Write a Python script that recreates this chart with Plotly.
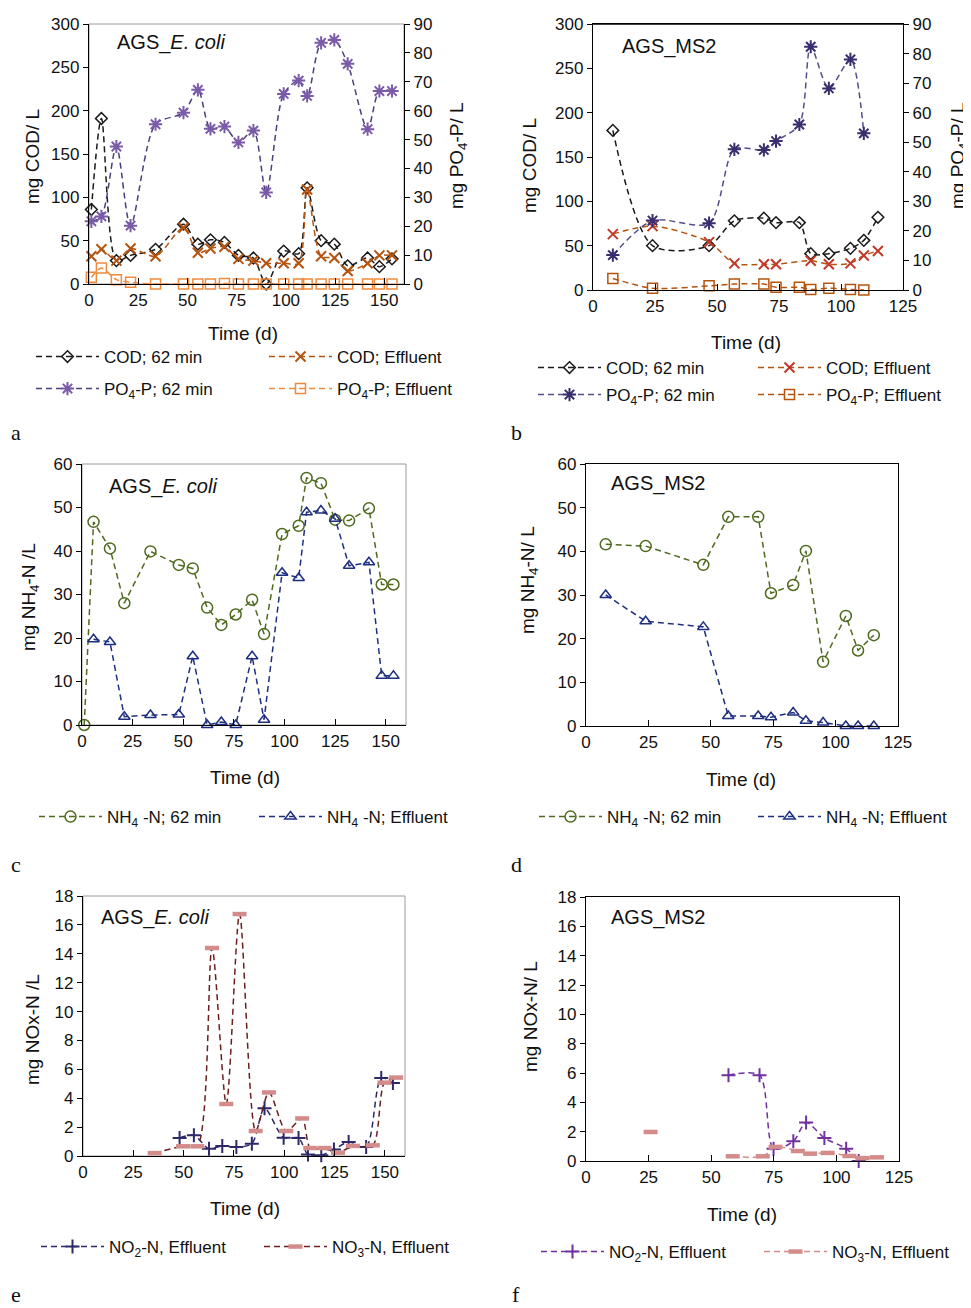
import plotly.graph_objects as go

# The page body has an 8 px margin: the figure is sized and mapped accordingly.
OFF = 8
W, H = 971 - OFF, 1308 - OFF
FONT = "Liberation Sans"

# ---------------- data ----------------
# Panel a: AGS_E. coli, COD and PO4-P
a_days = [1.2, 6.3, 13.9, 21.1, 33.8, 48, 55.3, 61.7, 68.8, 75.9, 83.5, 90, 98.9, 106.5, 110.8, 117.9, 124.6, 131.4, 141.5, 147.5, 153.9]
a_cod_62 = [86, 191, 27, 33, 40, 69, 46, 51, 48, 33, 30, 0, 38, 35, 111, 50, 46, 21, 30, 20, 29]
a_cod_eff = [32, 40, 27, 41, 32, 65, 36, 41, 43, 29, 27, 24, 24, 24, 109, 32, 30, 15, 24, 33, 33]
a_po4_62 = [21.7, 23.4, 47.6, 20.2, 55.3, 59.3, 67.2, 53.7, 54.5, 49, 53.1, 31.7, 65.8, 70.4, 65.1, 83.5, 84.5, 76.2, 53.6, 66.8, 66.8]
a_po4_eff = [2.3, 5.5, 1.5, 0.6, 0, 0, 0, 0, 0.2, 0, 0, 0, 0, 0, 0, 0, 0, 0, 0, 0, 0]

# Panel b: AGS_MS2, COD and PO4-P
b_days_cod62 = [8, 24, 46.8, 57, 68.9, 73.8, 83.2, 87.8, 95.1, 103.8, 109.2, 114.9]
b_cod_62 = [180, 50, 50, 78, 81, 76, 76, 41, 41, 47, 56, 82]
b_days_codeff = [8, 24, 46.8, 57, 68.9, 73.8, 87.8, 95.1, 103.8, 109.2, 114.9]
b_cod_eff = [63, 72, 54, 30, 29, 29, 33, 29, 30, 39, 44]
b_days_po4 = [8, 24, 46.8, 57, 68.9, 73.8, 83.2, 87.8, 95.1, 103.8, 109.2]
b_po4_62 = [11.8, 23.5, 22.6, 47.6, 47.4, 50.4, 56, 82.3, 68.2, 78, 53]
b_po4_eff = [3.9, 0.6, 1.4, 2, 2, 0.9, 0.9, 0.2, 0.6, 0.2, 0]

# Panel c: AGS_E. coli, NH4-N
c_days_62 = [1.1, 5.7, 13.8, 20.9, 33.8, 47.8, 54.7, 61.8, 68.8, 75.9, 84, 89.9, 98.8, 107, 110.9, 118, 125, 131.9, 141.7, 148, 153.8]
c_nh4_62 = [0, 46.7, 40.6, 28, 39.9, 36.8, 36, 27, 23, 25.4, 28.8, 20.9, 43.9, 45.8, 56.8, 55.6, 47.2, 47, 49.8, 32.3, 32.3]
c_days_eff = [5.7, 13.8, 20.9, 33.8, 47.8, 54.7, 61.8, 68.8, 75.9, 84, 89.9, 98.8, 107, 110.9, 118, 125, 131.9, 141.7, 148, 153.8]
c_nh4_eff = [19.7, 19.1, 1.9, 2.3, 2.4, 15.8, 0, 0.7, 0, 15.8, 1.2, 35, 33.8, 48.9, 49.3, 47.4, 36.6, 37.4, 11.3, 11.3]

# Panel d: AGS_MS2, NH4-N
d_days = [7.9, 23.9, 47, 57, 69, 74.1, 83, 88.1, 95, 104.1, 109, 115.3]
d_nh4_62 = [41.6, 41.2, 36.9, 47.9, 47.9, 30.4, 32.3, 40.1, 14.7, 25.2, 17.3, 20.8]
d_nh4_eff = [30, 24, 22.7, 2.3, 2.3, 2, 3.1, 1.2, 0.8, 0, 0, 0]

# Panel e: AGS_E. coli, NOx-N
e_days_no2 = [48, 55.1, 62.6, 69.2, 76.2, 83.9, 90.2, 99.7, 107.1, 111.8, 118.4, 124.7, 132, 140.7, 148.2, 154]
e_no2 = [1.25, 1.43, 0.5, 0.7, 0.62, 0.85, 3.3, 1.27, 1.25, 0.1, 0.05, 0.45, 0.97, 0.62, 5.4, 5.05]
e_days_no3 = [35.6, 49.7, 56.8, 64.1, 71.2, 77.8, 85.8, 92.4, 101, 108.9, 112.9, 120, 126.7, 134.1, 144, 149.8, 155.6]
e_no3 = [0.2, 0.67, 0.67, 14.4, 3.6, 16.75, 1.73, 4.4, 1.73, 2.6, 0.55, 0.55, 0.23, 0.7, 0.74, 5.08, 5.43]

# Panel f: AGS_MS2, NOx-N
f_days_no2 = [56.9, 69.3, 74.9, 82.8, 87.9, 95.2, 103.9, 108.9]
f_no2 = [5.85, 5.85, 0.84, 1.34, 2.62, 1.57, 0.84, 0]
f_days_no3 = [25.8, None, 58.6, 70.6, 75.7, 84.6, 89.5, 96.5, 105.2, 110.5, 116.2]
f_no3 = [1.98, None, 0.32, 0.32, 0.96, 0.68, 0.5, 0.55, 0.34, 0.2, 0.25]

x_ticks_long = [0, 25, 50, 75, 100, 125, 150]
x_ticks_short = [0, 25, 50, 75, 100, 125]

# ---------------- helpers ----------------
def fx(px):
    return (px - OFF) / W

def fy(py):
    return 1 - (py - OFF) / H

DASH = "6px,4px"
LEG_FONT = dict(family=FONT, size=17, color="#111")
legends = {}
_leg_counter = [0]


def make_legend(px, py):
    _leg_counter[0] += 1
    n = _leg_counter[0]
    key = "legend" if n == 1 else f"legend{n}"
    legends[key] = dict(x=fx(px - 4), y=fy(py), xanchor="left", yanchor="middle",
                        orientation="v", itemwidth=63, bgcolor="rgba(0,0,0,0)",
                        borderwidth=0, font=LEG_FONT, itemclick=False,
                        itemdoubleclick=False)
    return key


def line_trace(x, y, name, xa, ya, lcol, mcol, symbol, msize, legpos,
               shape="linear", mlw=1.5, lw=1.5):
    return go.Scatter(
        x=x, y=y, name=name, xaxis=xa, yaxis=ya, legend=make_legend(*legpos),
        mode="lines+markers", cliponaxis=False, connectgaps=False,
        line=dict(color=lcol, width=lw, dash=DASH, shape=shape, smoothing=0.8),
        marker=dict(symbol=symbol, size=msize, color=mcol,
                    line=dict(color=mcol, width=mlw)),
    )


fig = go.Figure()

# colours
C_BLACK = "#1a1a1a"
C_COD_EFF_A = "#B5540F"
C_PO4_A_M = "#7A5BA8"
C_PO4_A_L = "#4E3D80"
C_PO4_EFF_A = "#F08A3C"
C_COD_EFF_B_M = "#C0392B"
C_COD_EFF_B_L = "#B5540F"
C_PO4_B_M = "#3A2E6E"
C_PO4_B_L = "#5B4A8A"
C_PO4_EFF_B = "#B5540F"
C_GREEN = "#4F6A1E"
C_NAVY = "#1F2F80"
C_NO2_E = "#2E2A6A"
C_NO3_E_L = "#6B1F1F"
C_NO3_M = "#D48C8A"
C_NO2_F = "#7030A0"

# Panel a
fig.add_trace(line_trace(a_days, a_cod_62, "COD; 62 min", "x", "y", C_BLACK, C_BLACK, "diamond-open", 9, (35, 357), "spline"))
fig.add_trace(line_trace(a_days, a_cod_eff, "COD; Effluent", "x", "y", C_COD_EFF_A, C_COD_EFF_A, "x-thin-open", 10, (268, 357), "spline", mlw=2))
fig.add_trace(line_trace(a_days, a_po4_62, "PO<sub>4</sub>-P; 62 min", "x", "y2", C_PO4_A_L, C_PO4_A_M, "asterisk-open", 11, (35, 389), "spline", mlw=2))
fig.add_trace(line_trace(a_days, a_po4_eff, "PO<sub>4</sub>-P; Effluent", "x", "y2", C_PO4_EFF_A, C_PO4_EFF_A, "square-open", 10, (268, 389), "spline"))

# Panel b
fig.add_trace(line_trace(b_days_cod62, b_cod_62, "COD; 62 min", "x2", "y3", C_BLACK, C_BLACK, "diamond-open", 9, (537, 368), "spline"))
fig.add_trace(line_trace(b_days_codeff, b_cod_eff, "COD; Effluent", "x2", "y3", C_COD_EFF_B_L, C_COD_EFF_B_M, "x-thin-open", 10, (757, 368), "spline", mlw=2))
fig.add_trace(line_trace(b_days_po4, b_po4_62, "PO<sub>4</sub>-P; 62 min", "x2", "y4", C_PO4_B_L, C_PO4_B_M, "asterisk-open", 11, (537, 395), "spline", mlw=2))
fig.add_trace(line_trace(b_days_po4, b_po4_eff, "PO<sub>4</sub>-P; Effluent", "x2", "y4", C_PO4_EFF_B, C_PO4_EFF_B, "square-open", 10, (757, 395), "spline"))

# Panel c
fig.add_trace(line_trace(c_days_62, c_nh4_62, "NH<sub>4</sub> -N; 62 min", "x3", "y5", C_GREEN, C_GREEN, "circle-open", 11, (38, 817)))
fig.add_trace(line_trace(c_days_eff, c_nh4_eff, "NH<sub>4</sub> -N; Effluent", "x3", "y5", C_NAVY, C_NAVY, "triangle-up-open", 10, (258, 817)))

# Panel d
fig.add_trace(line_trace(d_days, d_nh4_62, "NH<sub>4</sub> -N; 62 min", "x4", "y6", C_GREEN, C_GREEN, "circle-open", 11, (538, 817)))
fig.add_trace(line_trace(d_days, d_nh4_eff, "NH<sub>4</sub> -N; Effluent", "x4", "y6", C_NAVY, C_NAVY, "triangle-up-open", 10, (757, 817)))

# Panel e
fig.add_trace(line_trace(e_days_no2, e_no2, "NO<sub>2</sub>-N, Effluent", "x5", "y7", C_NO2_E, C_NO2_E, "cross-thin-open", 10, (40, 1247), "spline", mlw=2))
fig.add_trace(line_trace(e_days_no3, e_no3, "NO<sub>3</sub>-N, Effluent", "x5", "y7", C_NO3_E_L, C_NO3_M, "line-ew-open", 10, (263, 1247), "spline", mlw=4.5))

# Panel f
fig.add_trace(line_trace(f_days_no2, f_no2, "NO<sub>2</sub>-N, Effluent", "x6", "y8", C_NO2_F, C_NO2_F, "cross-thin-open", 10, (540, 1252), "spline", mlw=2))
fig.add_trace(line_trace(f_days_no3, f_no3, "NO<sub>3</sub>-N, Effluent", "x6", "y8", C_NO3_M, C_NO3_M, "line-ew-open", 10, (763, 1252), "spline", mlw=4.5))

# ---------------- axes ----------------
TICKFONT = dict(family=FONT, size=17, color="#111")


def xaxis(x0, x1, anchor, rng, ticks, mirror):
    return dict(domain=[fx(x0), fx(x1)], anchor=anchor, range=rng,
                tickvals=ticks, ticks="inside", ticklen=6, tickwidth=1.3,
                tickcolor="black", showline=True, linecolor="black", linewidth=1.3,
                mirror=mirror, showgrid=False, zeroline=False, tickfont=TICKFONT,
                fixedrange=True, automargin=False)


def yaxis(y0, y1, anchor, rng, dtick, mirror, side="left", overlaying=None):
    d = dict(domain=[fy(y1), fy(y0)], anchor=anchor, range=rng, dtick=dtick, tick0=0,
             ticks="outside", ticklen=5, tickwidth=1.3, tickcolor="black",
             showline=True, linecolor="black", linewidth=1.3, mirror=mirror,
             showgrid=False, zeroline=False, tickfont=TICKFONT, side=side,
             fixedrange=True, automargin=False)
    if overlaying:
        d["overlaying"] = overlaying
    return d


layout = dict(
    width=W, height=H, margin=dict(l=0, r=0, t=0, b=0, autoexpand=False),
    paper_bgcolor="white", plot_bgcolor="rgba(0,0,0,0)",
    font=dict(family=FONT, color="#111"),
    xaxis=xaxis(89, 404, "y", [0, 160], x_ticks_long, False),
    yaxis=yaxis(24, 284, "x", [0, 300], 50, False),
    yaxis2=yaxis(24, 284, "x", [0, 90], 10, False, side="right", overlaying="y"),
    xaxis2=xaxis(593, 903, "y3", [0, 125], x_ticks_short, True),
    yaxis3=yaxis(24, 290, "x2", [0, 300], 50, False),
    yaxis4=yaxis(24, 290, "x2", [0, 90], 10, False, side="right", overlaying="y3"),
    xaxis3=xaxis(82, 406, "y5", [0, 160], x_ticks_long, False),
    yaxis5=yaxis(464, 725, "x3", [0, 60], 10, False),
    xaxis4=xaxis(586, 898, "y6", [0, 125], x_ticks_short, True),
    yaxis6=yaxis(464, 726, "x4", [0, 60], 10, True),
    xaxis5=xaxis(83, 405, "y7", [0, 160], x_ticks_long, False),
    yaxis7=yaxis(896, 1156, "x5", [0, 18], 2, False),
    xaxis6=xaxis(586, 899, "y8", [0, 125], x_ticks_short, True),
    yaxis8=yaxis(897, 1161, "x6", [0, 18], 2, True),
    showlegend=True,
)
layout.update(legends)
fig.update_layout(**layout)

# gray frame for panels a, c, e (top/right in gray)
for xr, yr in [("x", "y"), ("x3", "y5"), ("x5", "y7")]:
    fig.add_shape(type="rect", xref=f"{xr} domain", yref=f"{yr} domain",
                  x0=0, x1=1, y0=0, y1=1, line=dict(color="#9a9a9a", width=1),
                  layer="below")
# black top border for panel b
fig.add_shape(type="line", xref="x2 domain", yref="y3 domain", x0=0, x1=1, y0=1, y1=1,
              line=dict(color="black", width=1.3))

# ---------------- annotations ----------------
def ann(text, x, y, size=17, angle=0, family=FONT, xanchor="center"):
    fig.add_annotation(text=text, x=fx(x), y=fy(y), xref="paper", yref="paper",
                       showarrow=False, textangle=angle, xanchor=xanchor,
                       yanchor="middle", font=dict(family=family, size=size, color="#111"))


# panel titles
ann("AGS_<i>E. coli</i>", 115, 42, size=20, xanchor="left")
ann("AGS_MS2", 620, 46, size=20, xanchor="left")
ann("AGS_<i>E. coli</i>", 107, 487, size=20, xanchor="left")
ann("AGS_MS2", 609, 483, size=20, xanchor="left")
ann("AGS_<i>E. coli</i>", 99, 917, size=20, xanchor="left")
ann("AGS_MS2", 609, 918, size=20, xanchor="left")

# axis titles
ann("Time (d)", 243, 333, size=19)
ann("Time (d)", 746, 343, size=19)
ann("Time (d)", 245, 777, size=19)
ann("Time (d)", 741, 779, size=19)
ann("Time (d)", 245, 1208, size=19)
ann("Time (d)", 742, 1214, size=19)

ann("mg COD/ L", 33, 157, size=19, angle=-90)
ann("mg PO<sub>4</sub>-P/ L", 458, 156, size=19, angle=-90)
ann("mg COD/ L", 529, 166, size=19, angle=-90)
ann("mg PO<sub>4</sub>-P/ L", 959, 156, size=19, angle=-90)
ann("mg NH<sub>4</sub>-N /L", 30, 597, size=19, angle=-90)
ann("mg NH<sub>4</sub>-N/ L", 529, 580, size=19, angle=-90)
ann("mg NOx-N /L", 32, 1030, size=19, angle=-90)
ann("mg NOx-N/ L", 530, 1017, size=19, angle=-90)

# panel letters
SERIF = "Liberation Serif"
ann("a", 16, 433, size=22, family=SERIF)
ann("b", 516, 433, size=22, family=SERIF)
ann("c", 16, 864, size=22, family=SERIF)
ann("d", 516, 864, size=22, family=SERIF)
ann("e", 16, 1294, size=22, family=SERIF)
ann("f", 516, 1294, size=22, family=SERIF)

fig.write_html("out.html")
